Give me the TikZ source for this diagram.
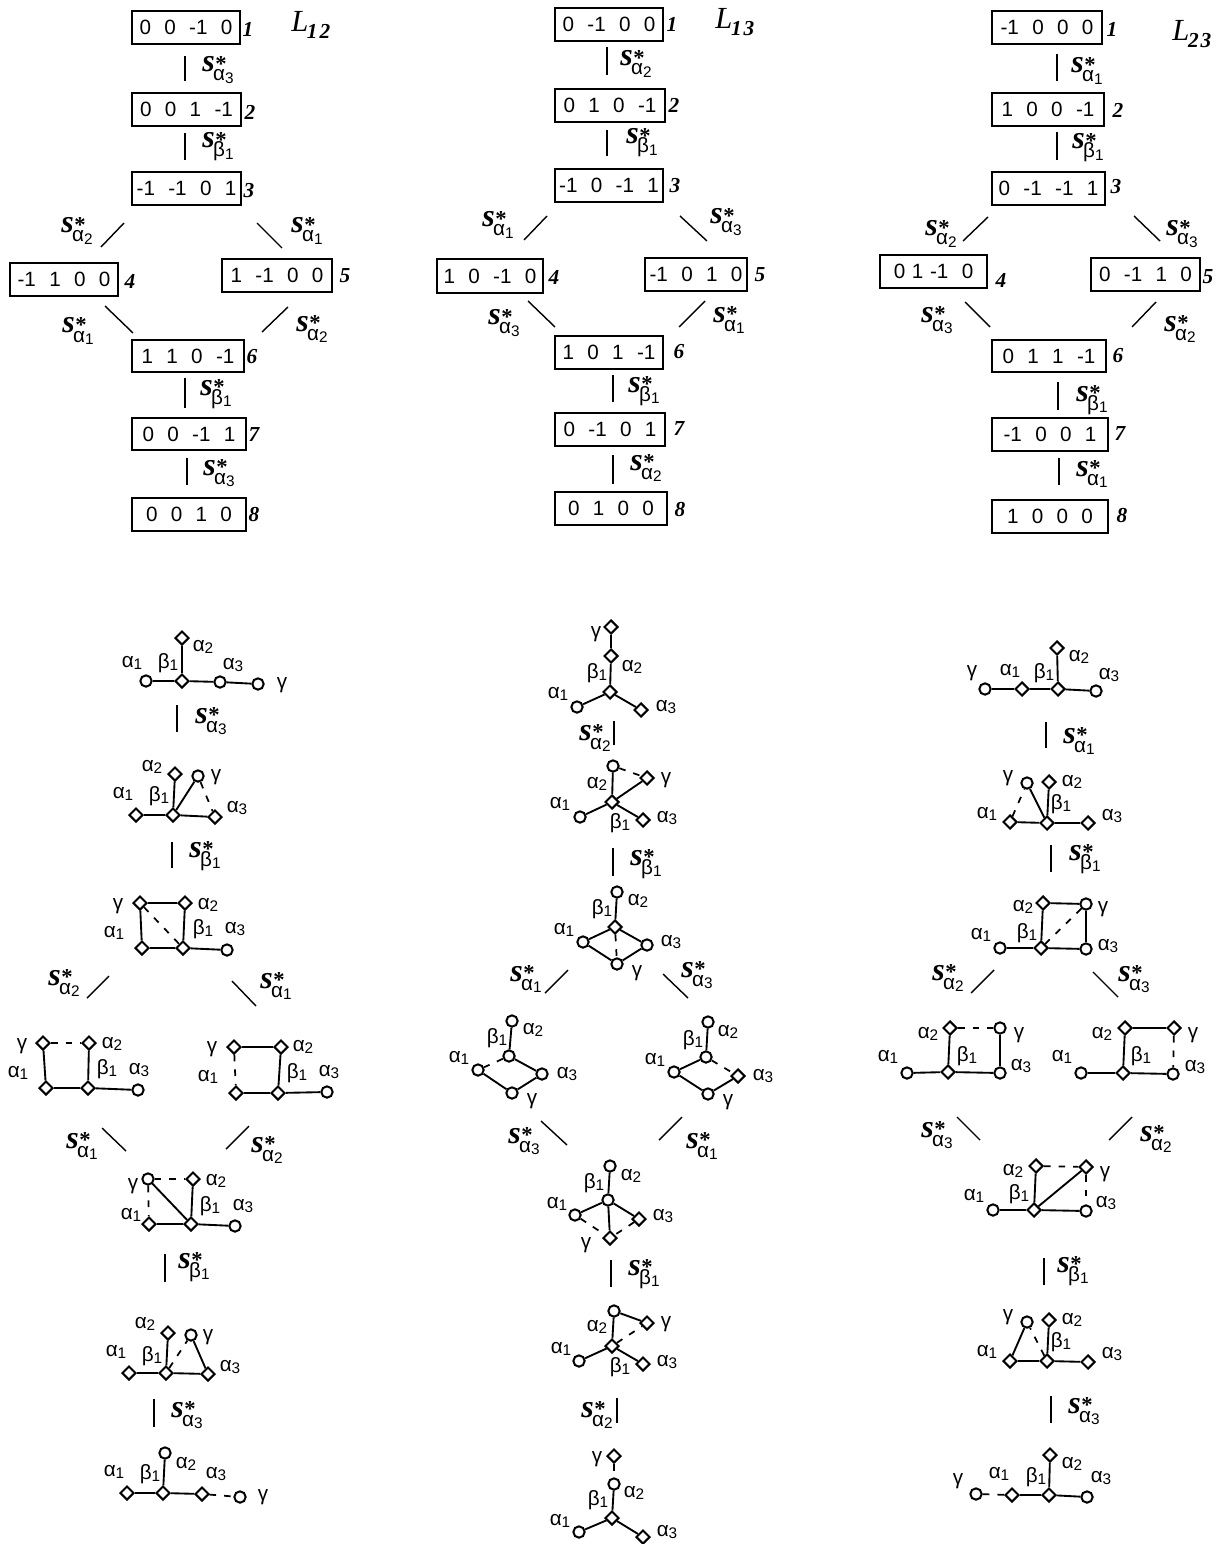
\documentclass[tikz,border=0pt]{standalone}
\usepackage{fontspec}
\usetikzlibrary{shapes.geometric}
\setmainfont{Liberation Sans}
\newfontfamily\serf{Liberation Serif}
\newcounter{lc}
\tikzset{
 bx/.style={draw,line width=1.7pt,inner sep=0pt,font=\fontsize{15.5}{16}\selectfont},
 vd/.style={diamond,draw,fill=white,line width=1.5pt,inner sep=0pt,minimum width=10.5pt,minimum height=10.5pt},
 vc/.style={circle,draw,fill=white,line width=1.5pt,inner sep=0pt,minimum size=8.5pt},
 edgeline/.style={line width=1.4pt},
 dashline/.style={line width=1.3pt,dash pattern=on 5pt off 6pt},
 tickline/.style={line width=1.05pt},
 lab/.style={inner sep=0pt,font=\fontsize{15.5}{16}\selectfont},
 slab/.style={inner sep=0pt,anchor=base west},
 numlab/.style={inner sep=0pt,font=\serf\bfseries\itshape\fontsize{16}{16}\selectfont},
 biglab/.style={inner sep=0pt,anchor=base west}
}
\newcommand\lsub[1]{\raisebox{-1.6pt}{\fontsize{11.5}{12}\selectfont #1}}
\newcommand\aI{α\lsub{1}}
\newcommand\aII{α\lsub{2}}
\newcommand\aIII{α\lsub{3}}
\newcommand\bI{β\lsub{1}}
\newcommand\stxt[2]{{\serf\bfseries\itshape\fontsize{24}{24}\selectfont s}\kern-1.2pt\rlap{\raisebox{0.5pt}{\kern1.6pt\serf\bfseries\fontsize{17}{17}\selectfont *}}\raisebox{-6.75pt}{\fontsize{15.5}{16}\selectfont #1\lsub{#2}}}
\newcommand\mybox[7]{\node[bx,minimum width={(#3-#2)*0.75pt},minimum height={(#5-#4)*0.75pt}] (#1) at ({(#2+#3)/2},{(#4+#5)/2}) {#6};}
\newcommand\g{\hskip 10pt}
\newcommand\gs{\hskip 5pt}
\newcommand\nm[3]{\stepcounter{lc}\node[numlab] (n\thelc) at (#1,#2) {#3};}
\newcommand\dv[3]{\node[vd] (#1) at (#2,#3) {};}
\newcommand\cv[3]{\node[vc] (#1) at (#2,#3) {};}
\newcommand\lb[3]{\stepcounter{lc}\node[lab] (l\thelc) at (#1,#2) {#3};}
\newcommand\edg[2]{\draw[edgeline] (#1) -- (#2);}
\newcommand\dsh[2]{\draw[dashline] (#1) -- (#2);}
\newcommand\tk[4]{\stepcounter{lc}\coordinate (ta\thelc) at (#1,#2);\coordinate (tb\thelc) at (#3,#4);\draw[tickline] (ta\thelc) -- (tb\thelc);}
\newcommand\sa[4]{\stepcounter{lc}\node[slab] (s\thelc) at (#1,#2) {\stxt{#3}{#4}};}
\newcommand\bigL[4]{\stepcounter{lc}\node[biglab] (L\thelc) at (#1,#2) {\serf\itshape\fontsize{23}{23}\selectfont L\kern-1pt\raisebox{-5pt}{\bfseries\fontsize{16}{16}\selectfont #3\kern1.5pt #4}};}
\begin{document}
\begin{tikzpicture}[x=0.75pt,y=-0.75pt]
\useasboundingbox (0,0) rectangle (1225,1544);
% ---------- column 1 boxes
\mybox{p1}{132}{240}{11}{44}{0\g 0\g -1\g 0}{}
\mybox{p2}{132}{241}{93}{126}{0\g 0\g 1\g -1}{}
\mybox{p3}{132}{241}{172}{205}{-1\g -1\g 0\g 1}{}
\mybox{p4}{10}{118}{263}{296}{-1\g 1\g 0\g 0}{}
\mybox{p5}{222}{332}{259}{292}{1\g -1\g 0\g 0}{}
\mybox{p6}{132}{244}{340}{372}{1\g 1\g 0\g -1}{}
\mybox{p7}{132}{246}{418}{450}{0\g 0\g -1\g 1}{}
\mybox{p8}{132}{246}{498}{531}{0\g 0\g 1\g 0}{}
\nm{248}{29}{1}\nm{250}{112}{2}\nm{249}{191}{3}\nm{130}{281}{4}\nm{345}{276}{5}\nm{252}{357}{6}\nm{254}{435}{7}\nm{254}{515}{8}
\bigL{291}{32}{1}{2}
\tk{185}{56}{185}{81}\tk{185}{133}{185}{160}\tk{124}{223}{101}{247}\tk{257}{223}{282}{248}\tk{105}{306}{133}{333}\tk{288}{307}{262}{332}\tk{185}{378}{185}{408}\tk{187}{458}{187}{485}
\sa{202}{72}{α}{3}\sa{202}{148}{β}{1}\sa{61}{233}{α}{2}\sa{291}{233}{α}{1}\sa{62}{333}{α}{1}\sa{296}{331}{α}{2}\sa{200}{395}{β}{1}\sa{203}{475}{α}{3}
% ---------- column 2 boxes
\mybox{q1}{555}{663}{8}{41}{0\g -1\g 0\g 0}{}
\mybox{q2}{555}{665}{89}{122}{0\g 1\g 0\g -1}{}
\mybox{q3}{555}{663}{169}{202}{-1\g 0\g -1\g 1}{}
\mybox{q4}{437}{543}{259}{293}{1\g 0\g -1\g 0}{}
\mybox{q5}{645}{747}{258}{291}{-1\g 0\g 1\g 0}{}
\mybox{q6}{555}{663}{336}{369}{1\g 0\g 1\g -1}{}
\mybox{q7}{555}{665}{413}{446}{0\g -1\g 0\g 1}{}
\mybox{q8}{555}{667}{492}{525}{0\g 1\g 0\g 0}{}
\nm{672}{24}{1}\nm{674}{105}{2}\nm{675}{186}{3}\nm{554}{277}{4}\nm{760}{275}{5}\nm{679}{352}{6}\nm{679}{429}{7}\nm{680}{510}{8}
\bigL{715}{29}{1}{3}
\tk{607}{47}{607}{75}\tk{607}{130}{607}{156}\tk{547}{216}{524}{240}\tk{680}{216}{707}{241}\tk{528}{301}{555}{327}\tk{705}{301}{679}{327}\tk{613}{375}{613}{402}\tk{613}{455}{613}{484}
\sa{620}{66}{α}{2}\sa{626}{144}{β}{1}\sa{482}{227}{α}{1}\sa{710}{224}{α}{3}\sa{488}{325}{α}{3}\sa{713}{322}{α}{1}\sa{628}{392}{β}{1}\sa{630}{470}{α}{2}
% ---------- column 3 boxes
\mybox{r1}{992}{1102}{11}{44}{-1\g 0\g 0\g 0}{}
\mybox{r2}{992}{1104}{93}{126}{1\g 0\g 0\g -1}{}
\mybox{r3}{992}{1105}{172}{205}{0\g -1\g -1\g 1}{}
\mybox{r4}{880}{987}{255}{288}{0\gs 1\gs -1\g 0}{}
\mybox{r5}{1091}{1200}{258}{291}{0\g -1\g 1\g 0}{}
\mybox{r6}{992}{1106}{340}{372}{0\g 1\g 1\g -1}{}
\mybox{r7}{992}{1108}{418}{451}{-1\g 0\g 0\g 1}{}
\mybox{r8}{992}{1108}{500}{533}{1\g 0\g 0\g 0}{}
\nm{1112}{29}{1}\nm{1118}{110}{2}\nm{1116}{187}{3}\nm{1001}{280}{4}\nm{1208}{277}{5}\nm{1118}{356}{6}\nm{1120}{434}{7}\nm{1122}{516}{8}
\bigL{1172}{41}{2}{3}
\tk{1057}{54}{1057}{81}\tk{1057}{132}{1057}{160}\tk{988}{217}{963}{241}\tk{1134}{216}{1160}{241}\tk{965}{302}{990}{327}\tk{1156}{302}{1132}{327}\tk{1058}{382}{1058}{410}\tk{1059}{458}{1059}{485}
\sa{1071}{73}{α}{1}\sa{1072}{149}{β}{1}\sa{925}{236}{α}{2}\sa{1166}{236}{α}{3}\sa{921}{322}{α}{3}\sa{1164}{331}{α}{2}\sa{1076}{401}{β}{1}\sa{1076}{476}{α}{1}
% ---------- A diagrams
\dv{Aa2}{182}{638}\dv{Ac}{182}{681}\cv{Aa1}{146}{681}\cv{Aa3}{220}{682}\cv{Ag}{258}{684}
\edg{Aa1}{Ac}\edg{Ac}{Aa2}\edg{Ac}{Aa3}\edg{Aa3}{Ag}
\lb{132}{663}{\aI}\lb{168}{663}{\bI}\lb{203}{647}{\aII}\lb{233}{665}{\aIII}\lb{282}{685}{γ}
\tk{177}{705}{177}{732}\sa{195}{723}{α}{3}
\dv{Ba2}{175}{774}\cv{Bg}{198}{776}\dv{Bc}{173}{815}\dv{Ba1}{136}{815}\dv{Ba3}{215}{817}
\edg{Ba1}{Bc}\edg{Bc}{Ba2}\edg{Bc}{Ba3}\edg{Bc}{Bg}\dsh{Bg}{Ba3}
\lb{123}{794}{\aI}\lb{159}{796}{\bI}\lb{152}{767}{\aII}\lb{216}{777}{γ}\lb{237}{808}{\aIII}
\tk{172}{842}{172}{868}\sa{189}{857}{β}{1}
\dv{Cg}{140}{903}\dv{Ca2}{185}{903}\dv{Ca1}{142}{948}\dv{Cc}{183}{948}\cv{Ca3}{227}{950}
\edg{Cg}{Ca2}\edg{Cg}{Ca1}\edg{Ca2}{Cc}\edg{Ca1}{Cc}\edg{Cc}{Ca3}\dsh{Cg}{Cc}
\lb{118}{906}{γ}\lb{208}{905}{\aII}\lb{114}{933}{\aI}\lb{203}{929}{\bI}\lb{235}{929}{\aIII}
\tk{109}{976}{87}{998}\tk{232}{981}{256}{1006}\sa{48}{985}{α}{2}\sa{260}{988}{α}{1}
\dv{Dg}{43}{1043}\dv{Da2}{89}{1043}\dv{Da1}{46}{1088}\dv{Dc}{88}{1088}\cv{Da3}{138}{1090}
\edg{Dg}{Da1}\edg{Da2}{Dc}\edg{Da1}{Dc}\edg{Dc}{Da3}\dsh{Dg}{Da2}
\lb{22}{1046}{γ}\lb{112}{1044}{\aII}\lb{18}{1073}{\aI}\lb{107}{1069}{\bI}\lb{139}{1070}{\aIII}
\dv{Eg}{234}{1047}\dv{Ea2}{281}{1047}\dv{Ea1}{236}{1093}\dv{Ec}{278}{1093}\cv{Ea3}{327}{1092}
\edg{Eg}{Ea2}\edg{Ea2}{Ec}\edg{Ea1}{Ec}\edg{Ec}{Ea3}\dsh{Eg}{Ea1}
\lb{212}{1049}{γ}\lb{303}{1047}{\aII}\lb{208}{1077}{\aI}\lb{297}{1073}{\bI}\lb{329}{1072}{\aIII}
\tk{102}{1128}{126}{1151}\tk{249}{1126}{226}{1149}\sa{66}{1148}{α}{1}\sa{251}{1152}{α}{2}
\cv{Fg}{148}{1179}\dv{Fa2}{193}{1179}\dv{Fa1}{149}{1224}\dv{Fc}{191}{1224}\cv{Fa3}{235}{1226}
\edg{Fa2}{Fc}\edg{Fa1}{Fc}\edg{Fc}{Fa3}\edg{Fg}{Fc}\dsh{Fg}{Fa2}\dsh{Fg}{Fa1}
\lb{133}{1186}{γ}\lb{216}{1181}{\aII}\lb{131}{1215}{\aI}\lb{210}{1206}{\bI}\lb{243}{1206}{\aIII}
\tk{165}{1254}{165}{1282}\sa{178}{1268}{β}{1}
\dv{Ga2}{168}{1333}\cv{Gg}{191}{1335}\dv{Ga1}{129}{1373}\dv{Gc}{166}{1373}\dv{Ga3}{208}{1374}
\edg{Ga1}{Gc}\edg{Gc}{Ga2}\edg{Gc}{Ga3}\edg{Gg}{Ga3}\dsh{Gc}{Gg}
\lb{145}{1324}{\aII}\lb{208}{1337}{γ}\lb{116}{1352}{\aI}\lb{152}{1356}{\bI}\lb{230}{1367}{\aIII}
\tk{154}{1399}{154}{1427}\sa{171}{1417}{α}{3}
\cv{Ha2}{165}{1453}\dv{Ha1}{127}{1493}\dv{Hc}{163}{1493}\dv{Ha3}{202}{1494}\cv{Hg}{240}{1497}
\edg{Ha1}{Hc}\edg{Hc}{Ha2}\edg{Hc}{Ha3}\dsh{Ha3}{Hg}
\lb{114}{1472}{\aI}\lb{150}{1474}{\bI}\lb{186}{1464}{\aII}\lb{216}{1474}{\aIII}\lb{263}{1497}{γ}
% ---------- B diagrams
\dv{Ig}{611}{627}\dv{Ia2}{611}{656}\dv{Ic}{610}{692}\cv{Ia1}{577}{707}\dv{Ia3}{641}{710}
\edg{Ig}{Ia2}\edg{Ia2}{Ic}\edg{Ic}{Ia1}\edg{Ic}{Ia3}
\lb{596}{634}{γ}\lb{632}{667}{\aII}\lb{597}{673}{\bI}\lb{558}{694}{\aI}\lb{666}{707}{\aIII}
\sa{579}{740}{α}{2}\tk{614}{721}{614}{745}
\cv{Ja2}{613}{766}\dv{Jg}{647}{778}\dv{Jc}{612}{802}\cv{Ja1}{580}{817}\dv{Ja3}{643}{820}
\edg{Ja2}{Jc}\edg{Jc}{Ja1}\edg{Jc}{Ja3}\edg{Jc}{Jg}\dsh{Ja2}{Jg}
\lb{597}{784}{\aII}\lb{666}{780}{γ}\lb{560}{804}{\aI}\lb{620}{823}{\bI}\lb{667}{818}{\aIII}
\tk{613}{848}{613}{876}\sa{630}{865}{β}{1}
\cv{Ka2}{617}{892}\dv{Kc}{615}{927}\cv{Ka1}{583}{942}\cv{Ka3}{647}{945}\cv{Kg}{617}{964}
\edg{Ka2}{Kc}\edg{Kc}{Ka1}\edg{Kc}{Ka3}\edg{Ka1}{Kg}\edg{Ka3}{Kg}\dsh{Kc}{Kg}
\lb{638}{901}{\aII}\lb{602}{909}{\bI}\lb{564}{930}{\aI}\lb{671}{942}{\aIII}\lb{637}{973}{γ}
\tk{568}{970}{545}{993}\tk{663}{974}{688}{998}\sa{510}{981}{α}{1}\sa{681}{977}{α}{3}
\cv{La2}{512}{1021}\cv{Lc}{509}{1056}\cv{La1}{478}{1070}\cv{La3}{542}{1074}\cv{Lg}{512}{1093}
\edg{La2}{Lc}\edg{Lc}{La3}\edg{La1}{Lg}\edg{La3}{Lg}\dsh{Lc}{La1}
\lb{533}{1030}{\aII}\lb{497}{1038}{\bI}\lb{459}{1058}{\aI}\lb{567}{1074}{\aIII}\lb{532}{1101}{γ}
\cv{Ma2}{708}{1022}\cv{Mc}{706}{1057}\cv{Ma1}{674}{1072}\dv{Ma3}{738}{1076}\cv{Mg}{708}{1094}
\edg{Ma2}{Mc}\edg{Mc}{Ma1}\edg{Ma1}{Mg}\edg{Ma3}{Mg}\dsh{Mc}{Ma3}
\lb{728}{1032}{\aII}\lb{693}{1040}{\bI}\lb{655}{1060}{\aI}\lb{763}{1076}{\aIII}\lb{728}{1102}{γ}
\tk{541}{1121}{567}{1145}\tk{682}{1117}{659}{1140}\sa{508}{1143}{α}{3}\sa{686}{1148}{α}{1}
\cv{Na2}{610}{1166}\cv{Nc}{608}{1200}\cv{Na1}{575}{1215}\dv{Na3}{639}{1219}\dv{Ng}{610}{1238}
\edg{Na2}{Nc}\edg{Nc}{Na1}\edg{Nc}{Na3}\edg{Nc}{Ng}\dsh{Na1}{Ng}\dsh{Na3}{Ng}
\lb{631}{1176}{\aII}\lb{594}{1183}{\bI}\lb{557}{1204}{\aI}\lb{663}{1216}{\aIII}\lb{586}{1245}{γ}
\tk{611}{1260}{611}{1287}\sa{628}{1275}{β}{1}
\cv{Oa2}{614}{1311}\dv{Og}{647}{1323}\dv{Oc}{612}{1346}\cv{Oa1}{579}{1361}\dv{Oa3}{643}{1364}
\edg{Oa2}{Oc}\edg{Oc}{Oa1}\edg{Oc}{Oa3}\edg{Oa2}{Og}\dsh{Oc}{Og}
\lb{597}{1327}{\aII}\lb{666}{1324}{γ}\lb{561}{1349}{\aI}\lb{620}{1367}{\bI}\lb{667}{1362}{\aIII}
\sa{581}{1417}{α}{2}\tk{617}{1398}{617}{1423}
\dv{Pg}{614}{1456}\cv{Pa2}{614}{1484}\dv{Pc}{612}{1518}\cv{Pa1}{579}{1532}\dv{Pa3}{643}{1537}
\edg{Pa2}{Pc}\edg{Pc}{Pa1}\edg{Pc}{Pa3}\dsh{Pg}{Pa2}
\lb{597}{1459}{γ}\lb{634}{1493}{\aII}\lb{598}{1500}{\bI}\lb{560}{1521}{\aI}\lb{667}{1532}{\aIII}
% ---------- C diagrams
\cv{Qg}{985}{689}\dv{Qa1}{1022}{689}\dv{Qc}{1058}{689}\dv{Qa2}{1057}{648}\cv{Qa3}{1096}{691}
\edg{Qg}{Qa1}\edg{Qa1}{Qc}\edg{Qc}{Qa2}\edg{Qc}{Qa3}
\lb{972}{673}{γ}\lb{1010}{671}{\aI}\lb{1044}{673}{\bI}\lb{1079}{657}{\aII}\lb{1109}{675}{\aIII}
\tk{1046}{722}{1046}{748}\sa{1063}{743}{α}{1}
\cv{Rg}{1027}{783}\dv{Ra2}{1049}{782}\dv{Rc}{1047}{823}\dv{Ra1}{1010}{822}\dv{Ra3}{1088}{823}
\edg{Ra1}{Rc}\edg{Rc}{Ra2}\edg{Rc}{Ra3}\edg{Rc}{Rg}\dsh{Ra1}{Rg}
\lb{1008}{778}{γ}\lb{1072}{782}{\aII}\lb{1061}{804}{\bI}\lb{987}{814}{\aI}\lb{1112}{816}{\aIII}
\tk{1051}{845}{1051}{872}\sa{1069}{860}{β}{1}
\dv{Sa2}{1043}{903}\cv{Sg}{1086}{904}\dv{Sc}{1041}{948}\cv{Sa1}{1000}{948}\cv{Sa3}{1086}{949}
\edg{Sa2}{Sg}\edg{Sa2}{Sc}\edg{Sa1}{Sc}\edg{Sc}{Sa3}\edg{Sg}{Sa3}\dsh{Sc}{Sg}
\lb{1023}{907}{\aII}\lb{1103}{909}{γ}\lb{1027}{933}{\bI}\lb{981}{935}{\aI}\lb{1108}{946}{\aIII}
\tk{994}{970}{971}{993}\tk{1093}{972}{1118}{997}\sa{932}{980}{α}{2}\sa{1118}{981}{α}{3}
\dv{Ta2}{950}{1028}\cv{Tg}{1000}{1028}\dv{Tc}{948}{1072}\cv{Ta1}{907}{1073}\cv{Ta3}{1000}{1073}
\edg{Ta2}{Tc}\edg{Ta1}{Tc}\edg{Tc}{Ta3}\edg{Tg}{Ta3}\dsh{Ta2}{Tg}
\lb{928}{1034}{\aII}\lb{1019}{1035}{γ}\lb{967}{1056}{\bI}\lb{888}{1057}{\aI}\lb{1021}{1066}{\aIII}
\dv{Ua2}{1125}{1028}\dv{Ug}{1174}{1028}\dv{Uc}{1123}{1073}\cv{Ua1}{1081}{1073}\cv{Ua3}{1173}{1074}
\edg{Ua2}{Ug}\edg{Ua2}{Uc}\edg{Ua1}{Uc}\edg{Uc}{Ua3}\dsh{Ug}{Ua3}
\lb{1102}{1034}{\aII}\lb{1193}{1035}{γ}\lb{1141}{1056}{\bI}\lb{1062}{1057}{\aI}\lb{1195}{1067}{\aIII}
\tk{957}{1117}{980}{1140}\tk{1132}{1117}{1109}{1140}\sa{921}{1137}{α}{3}\sa{1140}{1141}{α}{2}
\dv{Va2}{1036}{1166}\dv{Vg}{1086}{1167}\dv{Vc}{1034}{1210}\cv{Va1}{993}{1210}\cv{Va3}{1086}{1211}
\edg{Va2}{Vc}\edg{Va1}{Vc}\edg{Vc}{Va3}\edg{Vc}{Vg}\dsh{Va2}{Vg}\dsh{Vg}{Va3}
\lb{1013}{1171}{\aII}\lb{1105}{1174}{γ}\lb{1019}{1194}{\bI}\lb{974}{1196}{\aI}\lb{1106}{1203}{\aIII}
\tk{1044}{1258}{1044}{1285}\sa{1057}{1272}{β}{1}
\cv{Wg}{1027}{1322}\dv{Wa2}{1049}{1320}\dv{Wc}{1047}{1361}\dv{Wa1}{1010}{1361}\dv{Wa3}{1088}{1362}
\edg{Wa1}{Wc}\edg{Wc}{Wa2}\edg{Wc}{Wa3}\edg{Wa1}{Wg}\dsh{Wc}{Wg}
\lb{1008}{1317}{γ}\lb{1072}{1320}{\aII}\lb{1061}{1342}{\bI}\lb{987}{1352}{\aI}\lb{1112}{1354}{\aIII}
\tk{1051}{1396}{1051}{1423}
\begin{scope}\clip (1060,1385) rectangle (1130,1424);\sa{1068}{1413}{α}{3}\end{scope}
\cv{Xg}{976}{1494}\dv{Xa1}{1012}{1495}\dv{Xc}{1049}{1495}\dv{Xa2}{1050}{1455}\cv{Xa3}{1087}{1497}
\edg{Xa1}{Xc}\edg{Xc}{Xa2}\edg{Xc}{Xa3}\dsh{Xg}{Xa1}
\lb{958}{1481}{γ}\lb{999}{1474}{\aI}\lb{1036}{1477}{\bI}\lb{1072}{1464}{\aII}\lb{1101}{1478}{\aIII}
\end{tikzpicture}
\end{document}
